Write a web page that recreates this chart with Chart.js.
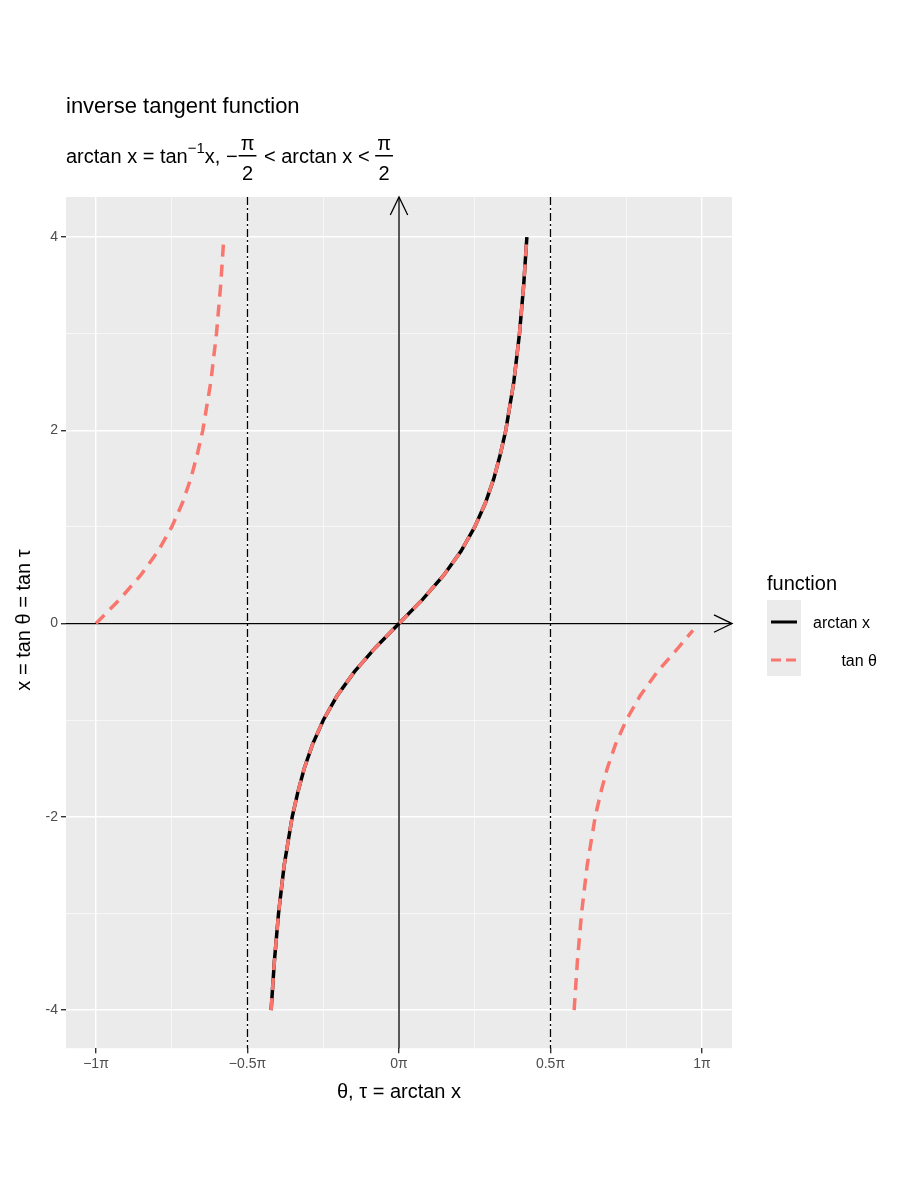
<!DOCTYPE html>
<html>
<head>
<meta charset="utf-8">
<script src="https://cdn.jsdelivr.net/npm/chart.js@4"></script>
<style>
  html, body { margin: 0; padding: 0; background: #fff; }
  #wrap { width: 900px; height: 1200px; }
</style>
</head>
<body>
<div id="wrap"><canvas id="chart" width="900" height="1200"></canvas></div>
<script>
// x values and their arctan, in units of pi
const xValues = [-4, -3.5, -3, -2.5, -2, -1.75, -1.5, -1.25, -1, -0.75, -0.5, -0.25, 0,
                 0.25, 0.5, 0.75, 1, 1.25, 1.5, 1.75, 2, 2.5, 3, 3.5, 4];
const arctanPi = [-0.42202, -0.41141, -0.39758, -0.37888, -0.35242, -0.33420, -0.31283, -0.28540, -0.25, -0.20483, -0.14758, -0.07798, 0,
                  0.07798, 0.14758, 0.20483, 0.25, 0.28540, 0.31283, 0.33420, 0.35242, 0.37888, 0.39758, 0.41141, 0.42202];
// tan branches shifted by -pi (x >= 0) and +pi (x <= 0)
const leftBranchTheta = [-1, -0.92202, -0.85242, -0.79517, -0.75, -0.71460, -0.68717, -0.66580, -0.64758, -0.62112, -0.60242, -0.58859, -0.57798];
const leftBranchX = [0, 0.25, 0.5, 0.75, 1, 1.25, 1.5, 1.75, 2, 2.5, 3, 3.5, 4];
const rightBranchTheta = [0.57798, 0.58859, 0.60242, 0.62112, 0.64758, 0.66580, 0.68717, 0.71460, 0.75, 0.79517, 0.85242, 0.92202, 0.97];
const rightBranchX = [-4, -3.5, -3, -2.5, -2, -1.75, -1.5, -1.25, -1, -0.75, -0.5, -0.25, -0.07];
const xTicks = [-1, -0.75, -0.5, -0.25, 0, 0.25, 0.5, 0.75, 1];
const xTickLabels = { '-1': '\u22121\u03c0', '-0.5': '\u22120.5\u03c0', '0': '0\u03c0', '0.5': '0.5\u03c0', '1': '1\u03c0' };
const yTicks = [-4, -3, -2, -1, 0, 1, 2, 3, 4];
const yTickLabels = { '-4': '-4', '-2': '-2', '0': '0', '2': '2', '4': '4' };

const arctanData = xValues.map((x, i) => ({ x: arctanPi[i], y: x }));
const tanData = arctanData
  .concat([{ x: 0.5, y: null }])
  .concat(leftBranchX.map((x, i) => ({ x: leftBranchTheta[i], y: x })))
  .concat([{ x: 0.5, y: null }])
  .concat(rightBranchX.map((x, i) => ({ x: rightBranchTheta[i], y: x })));
// keep the tan path ordered so the null gaps separate the three branches
const tanPath = [];
tanPath.push(...leftBranchX.map((x, i) => ({ x: leftBranchTheta[i], y: x })), { x: -0.5, y: null });
tanPath.push(...arctanData, { x: 0.5, y: null });
tanPath.push(...rightBranchX.map((x, i) => ({ x: rightBranchTheta[i], y: x })));

const FONT = 'Liberation Sans, Arial, sans-serif';
const RED = '#F8766D';

function arrowLine(ctx, x1, y1, x2, y2) {
  ctx.beginPath(); ctx.moveTo(x1, y1); ctx.lineTo(x2, y2); ctx.stroke();
  const a = Math.atan2(y2 - y1, x2 - x1), L = 20, w = 0.45;
  ctx.beginPath();
  ctx.moveTo(x2 - L * Math.cos(a - w), y2 - L * Math.sin(a - w));
  ctx.lineTo(x2, y2);
  ctx.lineTo(x2 - L * Math.cos(a + w), y2 - L * Math.sin(a + w));
  ctx.stroke();
}

function frac(ctx, x, top, bot, barY) {
  ctx.font = '20px ' + FONT;
  const w = Math.max(ctx.measureText(top).width, ctx.measureText(bot).width) + 4;
  ctx.textAlign = 'center';
  ctx.fillText(top, x + w / 2, barY - 6);
  ctx.fillText(bot, x + w / 2, barY + 24);
  ctx.fillRect(x, barY - 1, w, 1.5);
  ctx.textAlign = 'left';
  return x + w;
}

const overlay = {
  id: 'overlay',
  beforeDatasetsDraw(chart) {
    const { ctx, scales: { x, y } } = chart;
    ctx.save();
    ctx.strokeStyle = '#000'; ctx.lineWidth = 1.3;
    ctx.setLineDash([8, 3, 2, 3]);
    [-0.5, 0.5].forEach(v => {
      const px = x.getPixelForValue(v);
      ctx.beginPath(); ctx.moveTo(px, chart.chartArea.top); ctx.lineTo(px, chart.chartArea.bottom); ctx.stroke();
    });
    ctx.setLineDash([]);
    const x0 = x.getPixelForValue(0), y0 = y.getPixelForValue(0);
    arrowLine(ctx, x0, chart.chartArea.bottom, x0, chart.chartArea.top);
    arrowLine(ctx, chart.chartArea.left, y0, chart.chartArea.right, y0);
    ctx.restore();
  },
  afterDraw(chart) {
    const { ctx } = chart;
    ctx.save();
    ctx.fillStyle = '#000';
    ctx.textBaseline = 'alphabetic';
    ctx.font = '22px ' + FONT;
    ctx.fillText('inverse tangent function', 66, 113);
    // subtitle
    ctx.font = '20px ' + FONT;
    let cx = 66;
    const base = 163;
    const put = (s, dy = 0, f = '20px ') => { ctx.font = f + FONT; ctx.fillText(s, cx, base + dy); cx += ctx.measureText(s).width; };
    put('arctan x = tan');
    put('\u22121', -10, '15px ');
    put('x, \u2212');
    cx = frac(ctx, cx + 1, '\u03c0', '2', 156) + 2;
    put(' < arctan x < ');
    frac(ctx, cx, '\u03c0', '2', 156);
    // axis titles
    ctx.font = '20px ' + FONT;
    ctx.textAlign = 'center';
    ctx.fillText('\u03b8, \u03c4 = arctan x', 399, 1098);
    ctx.save();
    ctx.translate(30, 620); ctx.rotate(-Math.PI / 2);
    ctx.fillText('x = tan \u03b8 = tan \u03c4', 0, 0);
    ctx.restore();
    // legend
    ctx.textAlign = 'left';
    ctx.fillText('function', 767, 590);
    ctx.fillStyle = '#EBEBEB';
    ctx.fillRect(767, 600, 34, 76);
    ctx.lineWidth = 3;
    ctx.strokeStyle = '#000';
    ctx.beginPath(); ctx.moveTo(771, 622); ctx.lineTo(797, 622); ctx.stroke();
    ctx.strokeStyle = RED; ctx.setLineDash([10, 5]);
    ctx.beginPath(); ctx.moveTo(771, 660); ctx.lineTo(799, 660); ctx.stroke();
    ctx.fillStyle = '#000';
    ctx.font = '16px ' + FONT;
    ctx.fillText('arctan x', 813, 628);
    ctx.textAlign = 'right';
    ctx.fillText('tan \u03b8', 877, 666);
    ctx.restore();
  }
};

const panelBg = {
  id: 'panelBg',
  beforeDraw(chart) {
    const { ctx, chartArea: a } = chart;
    ctx.save();
    ctx.fillStyle = '#EBEBEB';
    ctx.fillRect(a.left, a.top, a.right - a.left, a.bottom - a.top);
    ctx.restore();
  }
};

new Chart(document.getElementById('chart'), {
  type: 'line',
  data: {
    datasets: [
      { label: 'tan \u03b8', data: tanPath, borderColor: RED, borderWidth: 3.5, borderDash: [12, 8],
        pointRadius: 0, spanGaps: false, tension: 0, order: 0 },
      { label: 'arctan x', data: arctanData, borderColor: '#000', borderWidth: 3.5,
        pointRadius: 0, tension: 0, order: 1 }
    ]
  },
  options: {
    responsive: false,
    animation: false,
    layout: { padding: { left: 0, right: 168, top: 197, bottom: 124 } },
    plugins: { legend: { display: false }, tooltip: { enabled: false } },
    scales: {
      x: {
        type: 'linear', min: -1.099, max: 1.099,
        afterBuildTicks: s => { s.ticks = xTicks.map(v => ({ value: v })); },
        ticks: { color: '#4D4D4D', font: { family: FONT, size: 14 }, maxRotation: 0, autoSkip: false,
                 callback: v => xTickLabels[String(v)] || '' },
        grid: { color: '#fff', lineWidth: c => (c.tick && xTickLabels[String(c.tick.value)] !== undefined ? 1.4 : 0.6),
                tickColor: c => (c.tick && xTickLabels[String(c.tick.value)] !== undefined ? '#333' : 'rgba(0,0,0,0)'),
                tickLength: 5, drawOnChartArea: true },
        border: { display: false }
      },
      y: {
        type: 'linear', min: -4.395, max: 4.415,
        afterBuildTicks: s => { s.ticks = yTicks.map(v => ({ value: v })); },
        afterFit: s => { s.width = 66; },
        ticks: { color: '#4D4D4D', font: { family: FONT, size: 14 }, autoSkip: false,
                 callback: v => yTickLabels[String(v)] || '' },
        grid: { color: '#fff', lineWidth: c => (c.tick && yTickLabels[String(c.tick.value)] !== undefined ? 1.4 : 0.6),
                tickColor: c => (c.tick && yTickLabels[String(c.tick.value)] !== undefined ? '#333' : 'rgba(0,0,0,0)'),
                tickLength: 5 },
        border: { display: false }
      }
    }
  },
  plugins: [panelBg, overlay]
});
</script>
</body>
</html>
